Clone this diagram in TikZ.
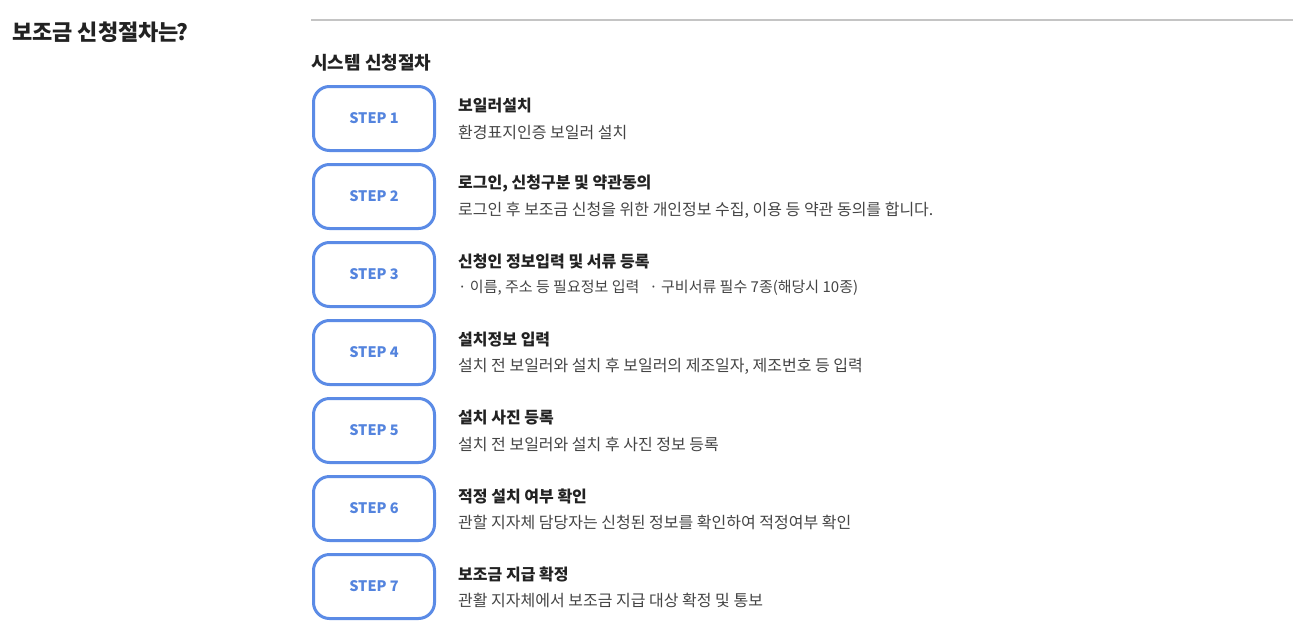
\documentclass[tikz,border=0pt]{standalone}
\usepackage{fontspec}
\setmainfont{Noto Sans CJK KR}
\usepackage{tikz}
\usetikzlibrary{positioning}

\definecolor{stepblue}{RGB}{91,139,230}
\definecolor{steptext}{RGB}{84,132,222}
\definecolor{titlegray}{RGB}{34,34,34}
\definecolor{descgray}{RGB}{68,68,68}
\definecolor{rulegray}{RGB}{196,196,196}

\begin{document}
\begin{tikzpicture}[
                x=1pt, y=-1pt,
                stepbox/.style={draw=stepblue, line width=3pt, rounded corners=16pt, fill=white,
                    minimum width=121pt, minimum height=64pt, inner sep=0pt,
                    text=steptext, font=\fontsize{14.5}{16}\selectfont\bfseries},
                steptitle/.style={anchor=west, inner sep=0pt, text=titlegray,
                    font=\fontsize{16}{18}\selectfont\bfseries},
                stepdesc/.style={anchor=west, inner sep=0pt, text=descgray,
                    font=\fontsize{16}{18}\selectfont}]
            \useasboundingbox (0,0) rectangle (1306,629);

            % Titre et filet
            \node[anchor=west, inner sep=0pt, text=titlegray, font=\fontsize{22}{26}\selectfont\bfseries] (head) at (12,32) {보조금 신청절차는\kern-3pt?};
            \coordinate (ruleL) at (311,20);
            \coordinate (ruleR) at (1293,20);
            \draw[rulegray, line width=2pt] (ruleL) -- (ruleR);
            \node[anchor=west, inner sep=0pt, text=titlegray, font=\fontsize{18}{20}\selectfont\bfseries] (sys) at (311,63) {시스템 신청절차};

            % Etapes
            \node[stepbox] (s1) at (374,118.5) {STEP 1};
            \node[stepbox] (s2) at (374,196.5) {STEP 2};
            \node[stepbox] (s3) at (374,274.5) {STEP 3};
            \node[stepbox] (s4) at (374,352.5) {STEP 4};
            \node[stepbox] (s5) at (374,430.5) {STEP 5};
            \node[stepbox] (s6) at (374,508.5) {STEP 6};
            \node[stepbox] (s7) at (374,586.5) {STEP 7};

            % Textes
            \node[steptitle] (t1) at (458,106) {보일러설치};
            \node[stepdesc] (d1) at (458,132) {환경표지인증 보일러 설치};
            \node[steptitle] (t2) at (458,184) {로그인, 신청구분 및 약관동의};
            \node[stepdesc] (d2) at (458,210) {로그인 후 보조금 신청을 위한 개인정보 수집, 이용 등 약관 동의를 합니다.};
            \node[steptitle] (t3) at (458,262) {신청인 정보입력 및 서류 등록};
            \node[stepdesc, font=\fontsize{15}{17}\selectfont] (d3) at (458,288) {· 이름, 주소 등 필요정보 입력\hspace{10pt}· 구비서류 필수 7종(해당시 10종)};
            \node[steptitle] (t4) at (458,340) {설치정보 입력};
            \node[stepdesc] (d4) at (458,366) {설치 전 보일러와 설치 후 보일러의 제조일자, 제조번호 등 입력};
            \node[steptitle] (t5) at (458,418) {설치 사진 등록};
            \node[stepdesc] (d5) at (458,444) {설치 전 보일러와 설치 후 사진 정보 등록};
            \node[steptitle] (t6) at (458,496) {적정 설치 여부 확인};
            \node[stepdesc] (d6) at (458,522) {관할 지자체 담당자는 신청된 정보를 확인하여 적정여부 확인};
            \node[steptitle] (t7) at (458,574) {보조금 지급 확정};
            \node[stepdesc] (d7) at (458,600) {관활 지자체에서 보조금 지급 대상 확정 및 통보};

        \end{tikzpicture}
\end{document}
